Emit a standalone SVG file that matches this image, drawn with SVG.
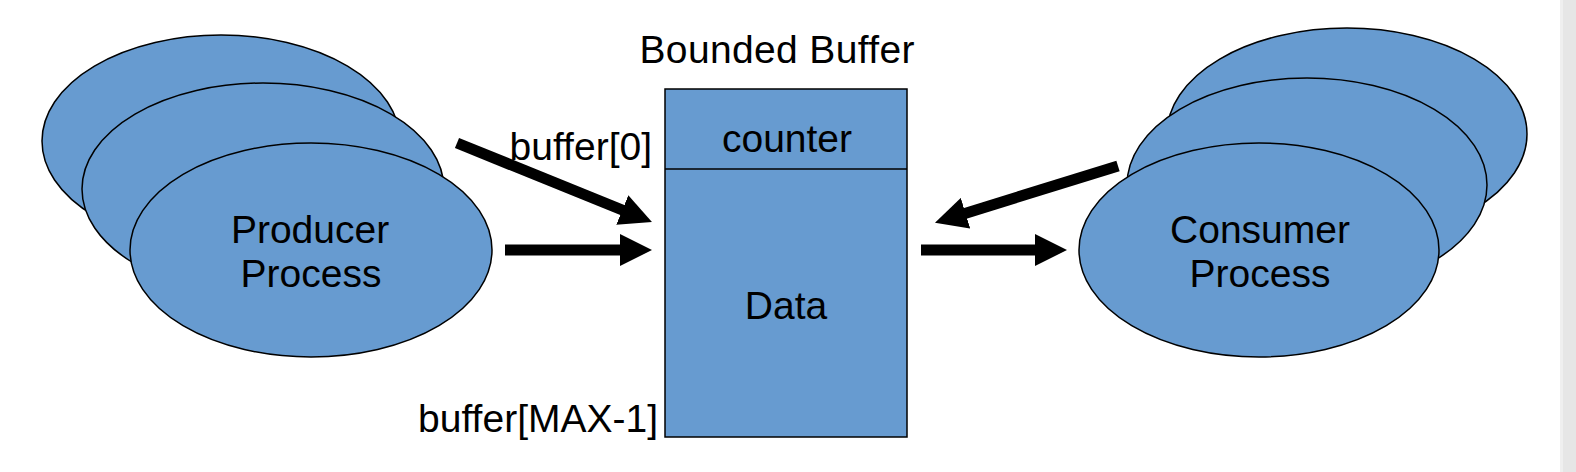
<svg xmlns="http://www.w3.org/2000/svg" width="1576" height="472" viewBox="0 0 1576 472">
  <style>
    .shape { fill: #679bd0; stroke: #000; stroke-width: 1.5; }
    .lbl { font-family: "Liberation Sans", Arial, Helvetica, sans-serif; font-size: 39px; fill: #000; }
    .mid { text-anchor: middle; }
    .end { text-anchor: end; }
    .conn { stroke: #000; stroke-width: 11; fill: none; marker-end: url(#head); }
  </style>
  <defs>
    <marker id="head" markerUnits="userSpaceOnUse" viewBox="0 0 32 32" markerWidth="32" markerHeight="32" refX="4" refY="16" orient="auto">
      <path d="M0,0 L32,16 L0,32 Z" fill="#000"/>
    </marker>
  </defs>
  <rect x="0" y="0" width="1576" height="472" fill="#fff"/>
  <rect x="1560" y="0" width="16" height="472" fill="#e6e6e6"/>
  <rect x="1560" y="0" width="3" height="472" fill="#efefef"/>

  <g id="producer">
    <ellipse class="shape" cx="221" cy="141" rx="179" ry="106"/>
    <ellipse class="shape" cx="263" cy="189" rx="181" ry="106"/>
    <ellipse class="shape" cx="311" cy="250" rx="181" ry="107"/>
    <text class="lbl mid" x="310" y="243">Producer</text>
    <text class="lbl mid" x="311" y="287">Process</text>
  </g>

  <g id="consumer">
    <ellipse class="shape" cx="1347" cy="134" rx="180" ry="106"/>
    <ellipse class="shape" cx="1307" cy="185" rx="180" ry="107"/>
    <ellipse class="shape" cx="1259" cy="250" rx="180" ry="107"/>
    <text class="lbl mid" x="1260" y="243">Consumer</text>
    <text class="lbl mid" x="1260" y="287">Process</text>
  </g>

  <g id="buffer">
    <text class="lbl mid" x="777" y="63" font-size="37" textLength="275" lengthAdjust="spacing">Bounded Buffer</text>
    <rect class="shape" x="665" y="89" width="242" height="348"/>
    <line x1="665" y1="169" x2="907" y2="169" stroke="#000" stroke-width="1.5"/>
    <text class="lbl mid" x="787" y="152">counter</text>
    <text class="lbl mid" x="786" y="319">Data</text>
    <text class="lbl end" x="652" y="160">buffer[0]</text>
    <text class="lbl end" x="658" y="432">buffer[MAX-1]</text>
  </g>

  <g id="connectors">
    <line class="conn" x1="457" y1="143" x2="626" y2="211.5"/>
    <line class="conn" x1="505" y1="250" x2="624" y2="250"/>
    <line class="conn" x1="1118" y1="166" x2="961.7" y2="214.4"/>
    <line class="conn" x1="921" y1="250" x2="1039" y2="250"/>
  </g>
</svg>
